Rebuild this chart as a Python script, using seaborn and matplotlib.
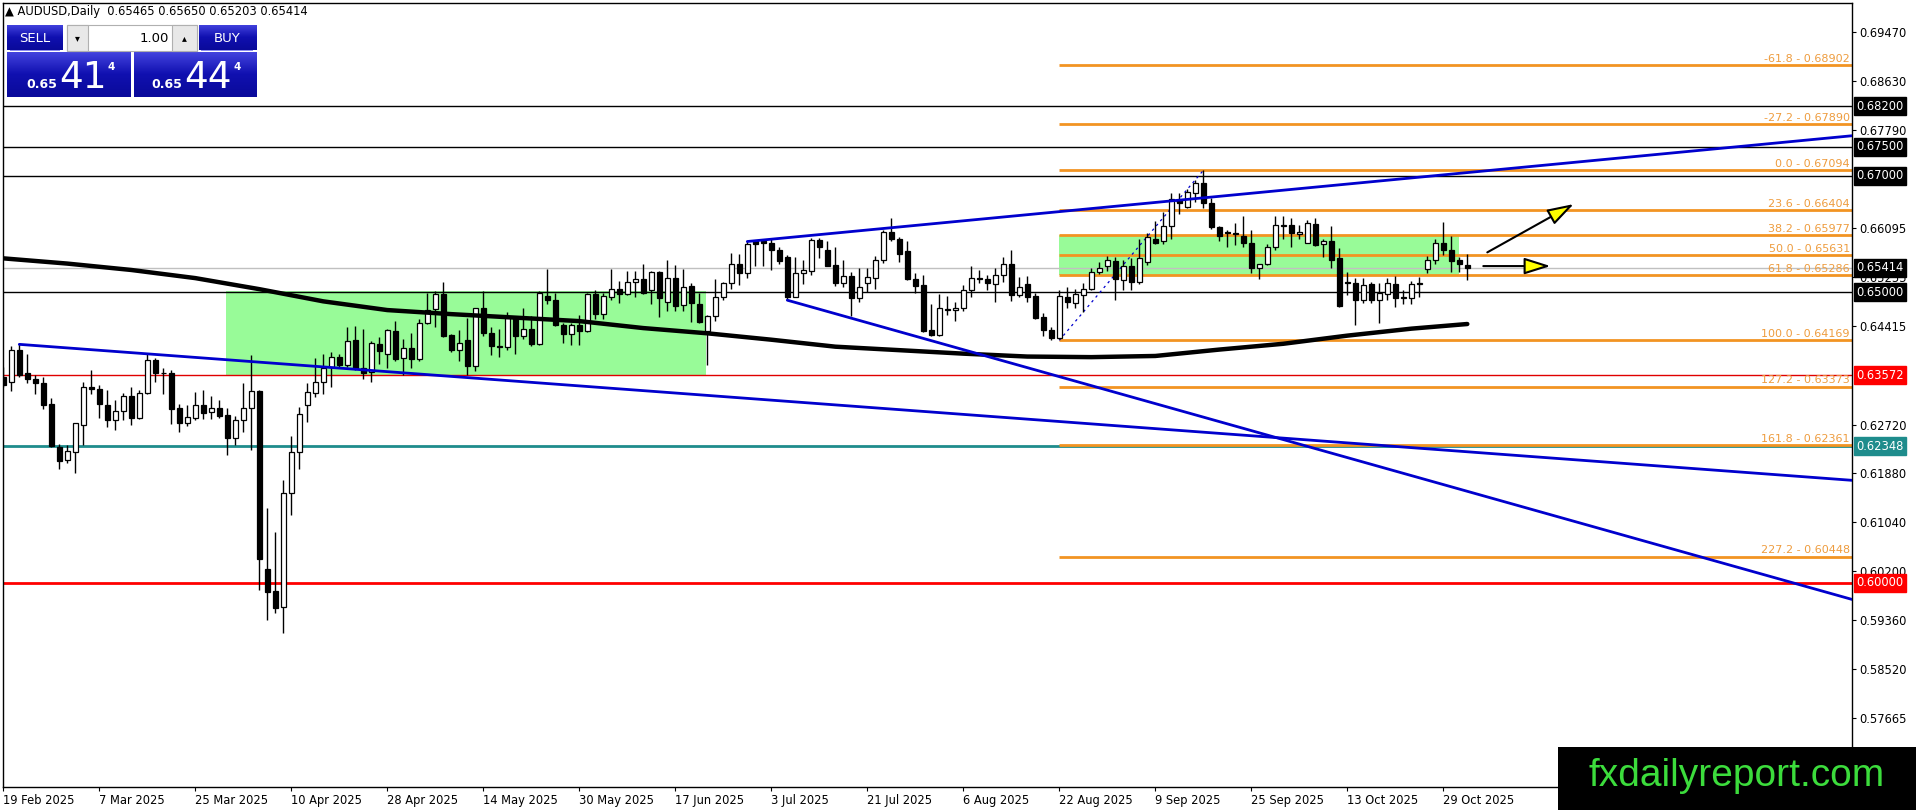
import numpy as np
import pandas as pd
import matplotlib
matplotlib.use("Agg")
import matplotlib.pyplot as plt
import matplotlib.transforms as mtransforms
from matplotlib.patches import Rectangle
from matplotlib.colors import LinearSegmentedColormap
import seaborn as sns

# ---------------- data ----------------
opens = [.6354,.6346,.6401,.6361,.6351,.6344,.6307,.6234,.6211,.6225,.6272,.6336,.6334,.6305,.6280,.6295,.6321,.6284,.6327,.6383,
         .6361,.6361,.6300,.6274,.6284,.6305,.6293,.6301,.6288,.6248,.6280,.6300,.6330,.6023,.5985,.5958,.6155,.6225,.6305,.6327,
         .6346,.6371,.6389,.6375,.6417,.6369,.6363,.6410,.6393,.6433,.6386,.6403,.6384,.6446,.6470,.6497,.6426,.6401,.6417,.6373,
         .6472,.6429,.6407,.6406,.6456,.6425,.6437,.6410,.6493,.6487,.6444,.6427,.6443,.6433,.6496,.6463,.6492,.6506,.6496,.6518,
         .6523,.6503,.6535,.6483,.6525,.6478,.6510,.6480,.6433,.6459,.6491,.6515,.6548,.6532,.6587,.6588,.6585,.6573,.6560,.6492,
         .6532,.6537,.6589,.6572,.6546,.6515,.6528,.6489,.6515,.6525,.6555,.6603,.6592,.6570,.6522,.6512,.6434,.6426,.6470,.6469,
         .6473,.6504,.6525,.6522,.6514,.6530,.6548,.6495,.6514,.6493,.6457,.6434,.6421,.6492,.6482,.6495,.6506,.6534,.6544,.6553,
         .6521,.6544,.6518,.6552,.6592,.6587,.6614,.6658,.6647,.6670,.6687,.6654,.6612,.6604,.6601,.6596,.6584,.6541,.6548,.6578,
         .6613,.6615,.6600,.6585,.6617,.6583,.6588,.6558,.6517,.6515,.6487,.6513,.6486,.6496,.6513,.6491,.6489,.6514,.6539,.6556,
         .6585,.6573,.6555,.65465]
highs = [.6371,.6407,.6410,.6394,.6358,.6354,.6317,.6239,.6237,.6275,.6346,.6366,.6340,.6332,.6314,.6327,.6336,.6332,.6393,.6386,
         .6369,.6366,.6308,.6305,.6328,.6332,.6321,.6314,.6301,.6286,.6344,.6392,.6331,.6129,.6087,.6177,.6252,.6302,.6344,.6386,
         .6393,.6397,.6394,.6439,.6441,.6437,.6416,.6422,.6437,.6450,.6420,.6429,.6453,.6498,.6502,.6517,.6427,.6435,.6455,.6473,
         .6502,.6439,.6437,.6466,.6459,.6472,.6459,.6501,.6539,.6499,.6446,.6447,.6460,.6498,.6503,.6498,.6540,.6519,.6536,.6536,
         .6548,.6537,.6536,.6555,.6546,.6539,.6515,.6499,.6460,.6522,.6518,.6568,.6565,.6587,.6589,.6592,.6592,.6578,.6564,.6560,
         .6555,.6593,.6593,.6587,.6578,.6555,.6534,.6542,.6541,.6562,.6607,.6627,.6595,.6588,.6532,.6530,.6480,.6496,.6493,.6483,
         .6512,.6545,.6538,.6529,.6542,.6560,.6572,.6526,.6527,.6498,.6464,.6440,.6504,.6508,.6506,.6515,.6541,.6552,.6562,.6561,
         .6556,.6558,.6591,.6601,.6622,.6638,.6670,.6671,.6678,.6692,.67094,.6661,.6614,.6607,.6618,.6631,.6607,.6549,.6582,.6631,
         .6631,.6627,.6615,.6624,.6627,.6592,.6614,.6575,.6535,.6525,.6525,.6518,.6516,.6525,.6527,.6503,.6519,.6526,.6562,.6592,
         .6621,.6596,.6561,.65650]
lows = [.6337,.6330,.6354,.6344,.6324,.6298,.6233,.6195,.6205,.6189,.6237,.6324,.6284,.6267,.6262,.6280,.6272,.6282,.6325,.6346,
        .6324,.6273,.6259,.6270,.6280,.6281,.6281,.6284,.6220,.6237,.6259,.6229,.5987,.5935,.5948,.5914,.6117,.6195,.6277,.6319,
        .6324,.6336,.6370,.6371,.6366,.6351,.6346,.6376,.6370,.6382,.6357,.6369,.6382,.6445,.6440,.6423,.6397,.6382,.6357,.6364,
        .6424,.6392,.6389,.6400,.6394,.6420,.6407,.6409,.6480,.6441,.6412,.6409,.6409,.6432,.6453,.6453,.6486,.6482,.6495,.6492,
        .6496,.6480,.6457,.6468,.6467,.6468,.6449,.6447,.6374,.6451,.6487,.6505,.6512,.6525,.6545,.6545,.6538,.6549,.6486,.6491,
        .6514,.6529,.6558,.6544,.6510,.6509,.6459,.6483,.6500,.6506,.6550,.6587,.6552,.6521,.6498,.6432,.6424,.6424,.6460,.6451,
        .6468,.6492,.6515,.6503,.6483,.6518,.6485,.6491,.6483,.6453,.6424,.64169,.6420,.6473,.6472,.6466,.6503,.6531,.6537,.6486,
        .6504,.6504,.6513,.6546,.6583,.6582,.6592,.6634,.6644,.6655,.6644,.6608,.6588,.6577,.6581,.6577,.6532,.6523,.6546,.6573,
        .6592,.6578,.6591,.6584,.6580,.6560,.6542,.6474,.6495,.6443,.6482,.6482,.6446,.6487,.6475,.6480,.6479,.6492,.6532,.6548,
        .6564,.6535,.6535,.65203]
closes = [.6340,.6401,.6357,.6351,.6344,.6306,.6235,.6209,.6226,.6274,.6336,.6334,.6308,.6280,.6295,.6321,.6284,.6327,.6383,.6360,
          .6360,.6299,.6274,.6285,.6305,.6292,.6301,.6287,.6248,.6280,.6301,.6330,.6041,.5984,.5956,.6155,.6225,.6290,.6328,.6346,
          .6370,.6389,.6374,.6416,.6369,.6361,.6412,.6399,.6435,.6384,.6403,.6384,.6447,.6469,.6497,.6424,.6401,.6413,.6373,.6472,
          .6429,.6407,.6406,.6456,.6424,.6437,.6410,.6499,.6486,.6444,.6427,.6444,.6433,.6496,.6463,.6494,.6506,.6496,.6517,.6523,
          .6499,.6535,.6489,.6525,.6476,.6509,.6482,.6449,.6459,.6491,.6515,.6548,.6532,.6582,.6582,.6584,.6572,.6553,.6492,.6532,
          .6538,.6589,.6578,.6545,.6515,.6528,.6489,.6508,.6526,.6556,.6603,.6592,.6566,.6522,.6511,.6433,.6426,.6473,.6469,.6473,
          .6504,.6525,.6523,.6515,.6530,.6548,.6495,.6508,.6492,.6455,.6434,.6421,.6493,.6483,.6496,.6506,.6534,.6542,.6555,.6522,
          .6544,.6518,.6558,.6594,.6585,.6614,.6660,.6654,.6672,.6687,.6654,.6612,.6596,.6602,.6600,.6584,.6541,.6548,.6578,.6615,
          .6615,.6601,.6604,.6619,.6581,.6588,.6556,.6476,.6515,.6487,.6512,.6486,.6498,.6515,.6489,.6490,.6513,.6515,.6556,.6584,
          .6572,.6554,.6548,.65414]

ma_bars = [0, 8, 16, 24, 32, 40, 48, 56, 64, 72, 80, 88, 96, 104, 112, 120, 128, 136, 144, 152, 160, 168, 176, 183]
ma_vals = [.6558, .6549, .6538, .6524, .6505, .6484, .6469, .6462, .6456, .6450, .6438, .6429, .6418, .6406,
           .6400, .6394, .6389, .6388, .6390, .6401, .6411, .6425, .6437, .6445]

date_labels = ["19 Feb 2025", "7 Mar 2025", "25 Mar 2025", "10 Apr 2025", "28 Apr 2025", "14 May 2025",
               "30 May 2025", "17 Jun 2025", "3 Jul 2025", "21 Jul 2025", "6 Aug 2025", "22 Aug 2025",
               "9 Sep 2025", "25 Sep 2025", "13 Oct 2025", "29 Oct 2025"]
date_label_bars = [0, 12, 24, 36, 48, 60, 72, 84, 96, 108, 120, 132, 144, 156, 168, 180]

price_ticks = [0.69470, 0.68630, 0.67790, 0.66095, 0.65255, 0.64415, 0.62720, 0.61880,
               0.61040, 0.60200, 0.59360, 0.58520, 0.57665]

black_levels = [0.68200, 0.67500, 0.67000, 0.65000]
red_thin_level = 0.63572
teal_level = 0.62348
red_level = 0.60000
current_price = 0.65414

fib_pcts = ["-61.8", "-27.2", "0.0", "23.6", "38.2", "50.0", "61.8", "100.0", "127.2", "161.8", "227.2"]
fib_prices = [0.68902, 0.67890, 0.67094, 0.66404, 0.65977, 0.65631, 0.65286, 0.64169, 0.63373, 0.62361, 0.60448]
fib_start_bar = 131.96
fib_anchor_bars = [132, 150]
fib_anchor_prices = [0.64169, 0.67094]

box1_bars = [27.9, 87.9]
box1_prices = [0.63572, 0.6502]
box2_bars = [131.96, 181.97]
box2_prices = [0.65286, 0.6599]

trend_down1_bars = [2, 231.1]
trend_down1_prices = [0.6410, 0.6176]
trend_down2_bars = [98, 231.1]
trend_down2_prices = [0.6486, 0.5971]
trend_up_bars = [93, 231.1]
trend_up_prices = [0.6587, 0.6769]

arrow_up_bars = [185.5, 196.3]
arrow_up_prices = [0.65683, 0.66514]
arrow_flat_bars = [185.0, 193.4]
arrow_flat_prices = [0.65447, 0.65447]

# ---------------- figure ----------------
W, H = 1916, 810
sns.set_theme(style="white")
plt.rcParams['font.family'] = ['DejaVu Sans']
fig = plt.figure(figsize=(W / 100, H / 100), dpi=100)
fig.patch.set_facecolor("white")

ax_l, ax_r, ax_t, ax_b = 2.7, 1852, 2.7, 787
ax = fig.add_axes([ax_l / W, 1 - ax_b / H, (ax_r - ax_l) / W, (ax_b - ax_t) / H])
ax.set_facecolor("white")

pxu = 5809.0  # pixels per price unit
y_top = 0.6947 + (32.3 - ax_t) / pxu
y_bot = 0.57665 - (ax_b - 718.3) / pxu
x_left = (ax_l - 3.3) / 8
x_right = (ax_r - 3.3) / 8
ax.set_xlim(x_left, x_right)
ax.set_ylim(y_bot, y_top)

df = pd.DataFrame({"o": opens, "h": highs, "l": lows, "c": closes})
df["bar"] = np.arange(len(df))

# green zones
for bx, pr in [(box1_bars, box1_prices), (box2_bars, box2_prices)]:
    ax.add_patch(Rectangle((bx[0], pr[0]), bx[1] - bx[0], pr[1] - pr[0],
                           facecolor="#98FB98", edgecolor="none", zorder=0.5))

# horizontal levels
for lv in black_levels:
    ax.axhline(lv, color="black", lw=1.0, zorder=1)
ax.axhline(current_price, color="#C0C0C0", lw=1.0, zorder=1)
ax.axhline(red_thin_level, color="#E00000", lw=1.0, zorder=1)
ax.axhline(teal_level, color="#1E8C8C", lw=2.0, zorder=1)
ax.axhline(red_level, color="#FF0000", lw=2.0, zorder=1)

# fib levels
fib_line = "#F29422"
fib_text = "#EE9C3E"
tr_blend = mtransforms.blended_transform_factory(ax.transAxes, ax.transData)
for pct, pr in zip(fib_pcts, fib_prices):
    ax.plot([fib_start_bar, x_right], [pr, pr], color=fib_line, lw=2.0, zorder=1.2, solid_capstyle="butt")
    ax.text(0.9989, pr + 1.5 / pxu, f"{pct} - {pr:.5f}", transform=tr_blend, ha="right", va="bottom",
            fontsize=8, color=fib_text, zorder=1.3)
ax.plot(fib_anchor_bars, fib_anchor_prices, color="#0000CD", lw=0.9, ls=(0, (2, 3)), zorder=1.4)

# candles
up = df["c"] >= df["o"]
ax.vlines(df["bar"], df["l"], df["h"], color="black", lw=1.0, zorder=2)
body_bottom = np.minimum(df["o"], df["c"])
body_h = np.maximum(np.abs(df["c"] - df["o"]), 0.6 / pxu)
ax.bar(df["bar"][up], body_h[up], bottom=body_bottom[up], width=0.62, color="white",
       edgecolor="black", linewidth=0.9, zorder=2.2)
ax.bar(df["bar"][~up], body_h[~up], bottom=body_bottom[~up], width=0.62, color="black",
       edgecolor="black", linewidth=0.9, zorder=2.2)

# moving average
sns.lineplot(x=ma_bars, y=ma_vals, ax=ax, color="black", lw=3.2, zorder=3, legend=False)

# trend lines
for bx, pr in [(trend_down1_bars, trend_down1_prices), (trend_down2_bars, trend_down2_prices),
               (trend_up_bars, trend_up_prices)]:
    ax.plot(bx, pr, color="#0000CD", lw=2.0, zorder=3.2)

# arrows
for bx, pr in [(arrow_up_bars, arrow_up_prices), (arrow_flat_bars, arrow_flat_prices)]:
    ax.annotate("", xy=(bx[1], pr[1]), xytext=(bx[0], pr[0]),
                arrowprops=dict(arrowstyle="-|>,head_length=0.95,head_width=0.3", mutation_scale=17,
                                fc="#FFFF00", ec="black", lw=1.5, shrinkA=0, shrinkB=0), zorder=4)

# axes styling
for s in ["left", "top", "right", "bottom"]:
    ax.spines[s].set_color("black")
    ax.spines[s].set_linewidth(1.0)
ax.yaxis.tick_right()
ax.set_yticks(price_ticks)
ax.set_yticklabels([f"{p:.5f}" for p in price_ticks])
ax.tick_params(axis="y", which="both", right=True, left=False, length=3, width=0.8, pad=2,
               labelsize=8.3, colors="black")
ax.set_xticks(date_label_bars)
ax.set_xticklabels(date_labels, ha="left")
ax.tick_params(axis="x", which="both", bottom=True, length=3, width=0.8, pad=2, labelsize=8.3, colors="black")
ax.grid(False)
ax.set_xlabel("")
ax.set_ylabel("")

# right-side price boxes
box_levels = [(0.68200, "black"), (0.67500, "black"), (0.67000, "black"), (current_price, "black"),
              (0.65000, "black"), (red_thin_level, "#FF0000"), (teal_level, "#1E8C8C"), (red_level, "#FF0000")]
for lv, col in box_levels:
    ax.text(1.0022, lv, f"{lv:.5f}", transform=tr_blend, ha="left", va="center", fontsize=8.3,
            color="white", zorder=10, clip_on=False,
            bbox=dict(boxstyle="square,pad=0.22", facecolor=col, edgecolor=col))

# ---------------- trade panel (figure pixels) ----------------
def fx(x):
    return x / W


def fy(y):
    return 1 - y / H


fig.text(fx(5), fy(11.5), "\u25B2 AUDUSD,Daily  0.65465 0.65650 0.65203 0.65414", fontsize=8.3,
         color="black", va="center", ha="left")

blue_cmap = LinearSegmentedColormap.from_list("btn", ["#4545E0", "#1010B0", "#0A0A9A"])
grad = np.linspace(0, 1, 64).reshape(-1, 1)


def grad_rect(x0, y0, x1, y1):
    a = fig.add_axes([fx(x0), fy(y1), (x1 - x0) / W, (y1 - y0) / H])
    a.imshow(grad, aspect="auto", cmap=blue_cmap, interpolation="bilinear")
    a.set_axis_off()
    return a


grad_rect(7, 25, 63, 50.5)
grad_rect(7, 51.5, 130.5, 97)
grad_rect(198.5, 25, 256.5, 50.5)
grad_rect(133.5, 51.5, 256.5, 97)

fig.add_artist(Rectangle((fx(67), fy(50.5)), (196.5 - 67) / W, 25.5 / H, transform=fig.transFigure,
                         facecolor="white", edgecolor="#B0B0B0", lw=0.8, zorder=5))
fig.add_artist(Rectangle((fx(67), fy(50.5)), 21 / W, 25.5 / H, transform=fig.transFigure,
                         facecolor="#E8E8E8", edgecolor="#B0B0B0", lw=0.8, zorder=5))
fig.add_artist(Rectangle((fx(172), fy(50.5)), 24.5 / W, 25.5 / H, transform=fig.transFigure,
                         facecolor="#E8E8E8", edgecolor="#B0B0B0", lw=0.8, zorder=5))
fig.text(fx(77.5), fy(38), "\u25BE", fontsize=7, ha="center", va="center", color="black", zorder=6)
fig.text(fx(184), fy(38), "\u25B4", fontsize=7, ha="center", va="center", color="black", zorder=6)
fig.text(fx(169), fy(38), "1.00", fontsize=9.5, ha="right", va="center", color="black", zorder=6)

fig.text(fx(35), fy(38), "SELL", fontsize=9.5, ha="center", va="center", color="white", zorder=6)
fig.text(fx(227.5), fy(38), "BUY", fontsize=9.5, ha="center", va="center", color="white", zorder=6)
fig.add_artist(Rectangle((fx(10), fy(51)), 50 / W, 0.8 / H, transform=fig.transFigure,
                         facecolor="#8C8CF0", edgecolor="none", zorder=6))
fig.add_artist(Rectangle((fx(201), fy(51)), 52 / W, 0.8 / H, transform=fig.transFigure,
                         facecolor="#8C8CF0", edgecolor="none", zorder=6))

for x_small, x_big, x_sup, big in [(26, 59, 108, "41"), (151, 184, 233, "44")]:
    fig.text(fx(x_small), fy(88), "0.65", fontsize=9, fontweight="bold", ha="left", va="baseline",
             color="white", zorder=6)
    fig.text(fx(x_big), fy(88), big, fontsize=27, ha="left", va="baseline", color="white", zorder=6)
    fig.text(fx(x_sup), fy(62), "4", fontsize=7.5, fontweight="bold", ha="left", va="top",
             color="white", zorder=6)

# ---------------- watermark ----------------
fig.add_artist(Rectangle((fx(1558), 0), (W - 1558) / W, 63 / H, transform=fig.transFigure,
                         facecolor="black", edgecolor="none", zorder=8))
fig.text(fx(1737), fy(776), "fxdailyreport.com", fontsize=28, family="Liberation Sans",
         color="#3CDC3C", ha="center", va="center", zorder=9)

fig.savefig("out.png", dpi=100, facecolor="white")
